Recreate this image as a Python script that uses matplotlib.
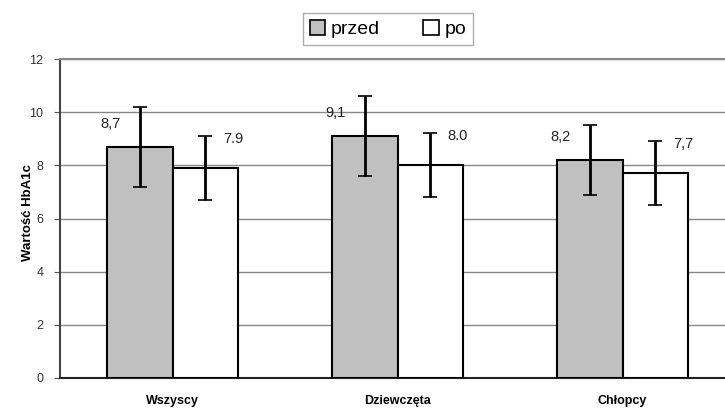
import matplotlib
matplotlib.use("Agg")
import matplotlib.pyplot as plt
import numpy as np
from matplotlib.patches import Patch

plt.rcParams['font.family'] = ['Liberation Sans', 'DejaVu Sans']

categories = ["Wszyscy", "Dziewczęta", "Chłopcy"]
series_names = ["przed", "po"]
przed = [8.7, 9.1, 8.2]
po = [7.9, 8.0, 7.7]
przed_err = [1.5, 1.5, 1.3]
po_err = [1.2, 1.2, 1.2]
przed_labels = ["8,7", "9,1", "8,2"]
po_labels = ["7.9", "8.0", "7,7"]
yticks = [0, 2, 4, 6, 8, 10, 12]

fig = plt.figure(figsize=(7.25, 4.08), dpi=100)
ax = fig.add_axes([60/725, 1-378/408, 675/725, (378-59)/408])

x = np.arange(len(categories))
w = 0.29
grey = "#c0c0c0"

ax.bar(x - w/2, przed, w, color=grey, edgecolor="black", linewidth=1.5, zorder=3)
ax.bar(x + w/2, po, w, color="white", edgecolor="black", linewidth=1.5, zorder=3)
ax.errorbar(x - w/2, przed, yerr=przed_err, fmt="none", ecolor="black",
            elinewidth=2, capsize=5, capthick=1.2, zorder=4)
ax.errorbar(x + w/2, po, yerr=po_err, fmt="none", ecolor="black",
            elinewidth=2, capsize=5, capthick=1.2, zorder=4)

for xi, v, lab in zip(x - w/2, przed, przed_labels):
    ax.annotate(lab, (xi, v + 0.87), xytext=(-21, 0), textcoords="offset points",
                ha="center", va="center", fontsize=10.5, color="#222222")
for xi, v, lab in zip(x + w/2, po, po_labels):
    ax.annotate(lab, (xi, v + 1.1), xytext=(20, 0), textcoords="offset points",
                ha="center", va="center", fontsize=10.5, color="#222222")

ax.set_xlim(-0.5, 2.5)
ax.set_ylim(0, 12)
ax.set_yticks(yticks)
ax.set_yticklabels([str(t) for t in yticks], fontsize=9, color="#333333")
ax.set_xticks(x)
ax.set_xticklabels(categories, fontsize=9, fontweight="bold")
ax.tick_params(axis="x", length=0, pad=12)
ax.tick_params(axis="y", length=4, color="#555555", pad=8)
ax.yaxis.grid(True, color="#888888", linewidth=1, zorder=0)
ax.set_axisbelow(True)
ax.spines["top"].set_color("#888888")
ax.spines["top"].set_linewidth(1.5)
ax.spines["right"].set_visible(False)
ax.spines["left"].set_color("#444444")
ax.spines["left"].set_linewidth(1.5)
ax.spines["bottom"].set_color("#222222")
ax.spines["bottom"].set_linewidth(1.5)
ax.set_ylabel("Wartość HbA1c", fontsize=9.5, fontweight="bold")
ax.yaxis.set_label_coords(-26/675, 0.52)

handles = [Patch(facecolor=grey, edgecolor="black", linewidth=1.2),
           Patch(facecolor="white", edgecolor="black", linewidth=1.2)]
fig.legend(handles, series_names, loc="center", bbox_to_anchor=(388/725, 1-29/408),
           ncol=2, fontsize=14, frameon=True, fancybox=False, edgecolor="#999999",
           handlelength=0.8, handleheight=0.8, handletextpad=0.3, columnspacing=2.2,
           borderpad=0.35, borderaxespad=0)

fig.savefig("out.png", dpi=100)
